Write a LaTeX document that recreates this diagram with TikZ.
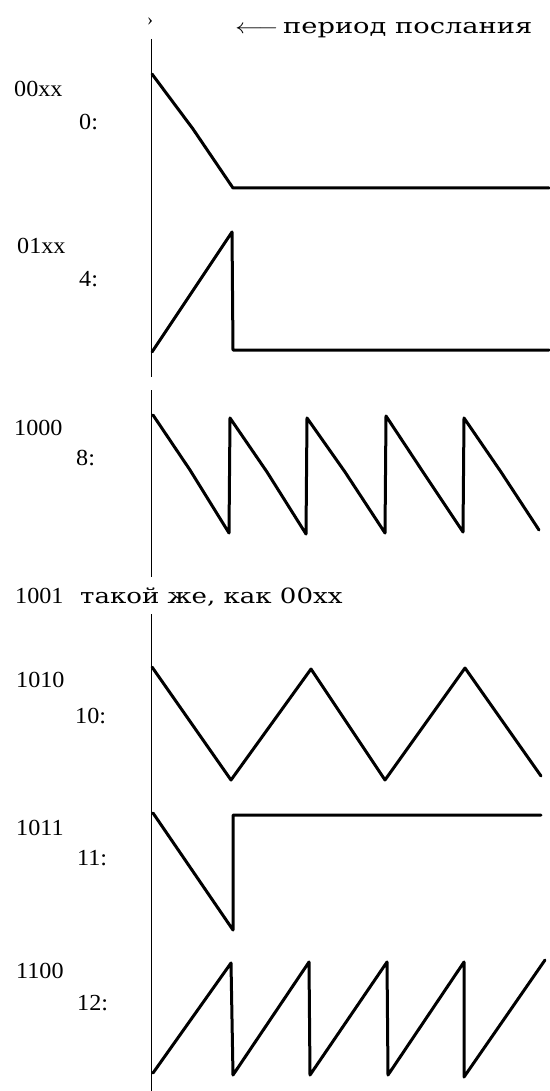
\documentclass[tikz,border=0pt]{standalone}
\usepackage{fontspec}
\setmainfont{Liberation Serif}
\newfontfamily\heavy{DejaVu Serif}
\newcommand{\widetxt}[2]{\scalebox{#1}[1]{#2}}
\begin{document}
\begin{tikzpicture}[x=1pt,y=-1pt,
  lbl/.style={anchor=base west,inner sep=0pt,font=\fontsize{23}{23}\selectfont},
  note/.style={anchor=base west,inner sep=0pt,font=\heavy\fontsize{21}{21}\selectfont},
  axisline/.style={line width=1.8pt},
  wave/.style={line width=3pt,line join=round,line cap=round}]
\useasboundingbox (0,0) rectangle (549,1091);
% header
\node[inner sep=0pt,font=\fontsize{18}{18}\selectfont] (tick) at (150,22) {›};
\node[note] (title) at (235,34) {\widetxt{1.3}{$\longleftarrow$\,период послания}};
% axis
\coordinate (a1) at (151.5,39);  \coordinate (a2) at (151.5,377);
\coordinate (a3) at (151.5,390); \coordinate (a4) at (151.5,577);
\coordinate (a5) at (151.5,614); \coordinate (a6) at (151.5,1091);
\draw[axisline] (a1) -- (a2);
\draw[axisline] (a3) -- (a4);
\draw[axisline] (a5) -- (a6);
% labels
\node[lbl] (c0) at (14,97) {\widetxt{1.05}{00xx}};   \node[lbl] (n0) at (79,130) {\widetxt{1.05}{0:}};
\node[lbl] (c4) at (17,253) {\widetxt{1.05}{01xx}};  \node[lbl] (n4) at (79,286) {\widetxt{1.05}{4:}};
\node[lbl] (c8) at (14,435) {\widetxt{1.05}{1000}};  \node[lbl] (n8) at (76,465) {\widetxt{1.05}{8:}};
\node[lbl] (c9) at (15,603) {\widetxt{1.05}{1001}};  \node[note] (same) at (80,603) {\widetxt{1.24}{такой же, как 00xx}};
\node[lbl] (c10) at (16,687) {\widetxt{1.05}{1010}}; \node[lbl] (n10) at (75,723) {\widetxt{1.05}{10:}};
\node[lbl] (c11) at (16,835) {\widetxt{1.05}{1011}}; \node[lbl] (n11) at (77,865) {\widetxt{1.05}{11:}};
\node[lbl] (c12) at (16,978) {\widetxt{1.05}{1100}}; \node[lbl] (n12) at (77,1010) {\widetxt{1.05}{12:}};
% waveforms
\draw[wave] (152,74) -- (193,129) -- (233,188) -- (549,188);
\draw[wave] (152,352) -- (232,232) -- (233,350) -- (549,350);
\draw[wave] (153,415) -- (190,470) -- (229,533) -- (230,418) -- (267,472) -- (306,534)
  -- (307,418) -- (345,472) -- (385,533) -- (386,416) -- (423,472) -- (463,532)
  -- (464,418) -- (501,472) -- (539,530);
\draw[wave] (152,667) -- (231,780) -- (311,669) -- (385,780) -- (465,668) -- (541,776);
\draw[wave] (153,813) -- (233,930) -- (233,815) -- (541,815);
\draw[wave] (153,1073) -- (231,963) -- (233,1075) -- (309,962) -- (310,1075)
  -- (387,962) -- (388,1075) -- (464,962) -- (464,1077) -- (545,960);
\end{tikzpicture}
\end{document}
